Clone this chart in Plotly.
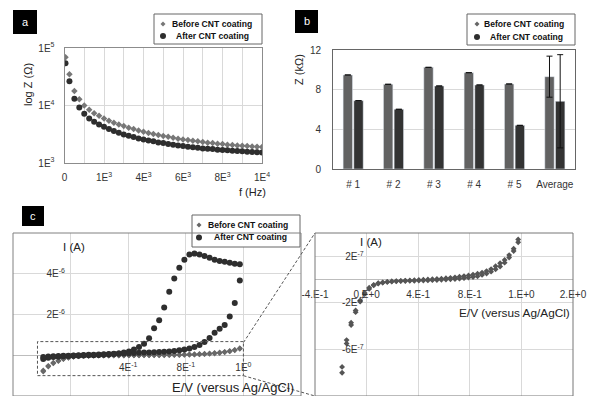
import plotly.graph_objects as go

W, H = 590, 396


def px(x):
    return x / W


def py(y):
    return 1 - y / H


# ---------------- data: panel a (impedance vs frequency) ----------------
freq_hz = [50, 250, 500, 750, 1000, 1250, 1500, 1750, 2000, 2250, 2500, 2750, 3000, 3250,
           3500, 3750, 4000, 4250, 4500, 4750, 5000, 5250, 5500, 5750, 6000, 6250, 6500,
           6750, 7000, 7250, 7500, 7750, 8000, 8250, 8500, 8750, 9000, 9250, 9500, 9750, 10000]
z_before = [68900, 34900, 17900, 12900, 10000, 8410, 7360, 6620, 5950, 5420, 5000, 4690, 4380,
            4100, 3890, 3680, 3490, 3310, 3180, 3060, 2940, 2860, 2750, 2640, 2570, 2500, 2440,
            2380, 2310, 2250, 2220, 2160, 2130, 2080, 2050, 2020, 2000, 1970, 1945, 1920, 1895]
z_after = [54200, 26400, 13060, 9230, 7170, 5950, 5210, 4690, 4270, 3890, 3590, 3360, 3140,
           2980, 2820, 2680, 2570, 2470, 2380, 2280, 2220, 2130, 2080, 2020, 1970, 1920, 1870,
           1845, 1795, 1775, 1750, 1700, 1680, 1660, 1640, 1615, 1595, 1575, 1560, 1545, 1530]
a_xticks = [0, 2000, 4000, 6000, 8000, 10000]
a_xticklabels = ["0", "1E<sup>3</sup>", "4E<sup>3</sup>", "6E<sup>3</sup>",
                 "8E<sup>3</sup>", "1E<sup>4</sup>"]
a_yticks = [1e3, 1e4, 1e5]
a_yticklabels = ["1E<sup>3</sup>", "1E<sup>4</sup>", "1E<sup>5</sup>"]

# ---------------- data: panel b (impedance per electrode) ----------------
samples = ["# 1", "# 2", "# 3", "# 4", "# 5", "Average"]
zk_before = [9.48, 8.54, 10.25, 9.71, 8.57, 9.31]
zk_after = [6.89, 6.02, 8.37, 8.47, 4.40, 6.83]
err_before = [None, None, None, None, None, 2.07]
err_after = [None, None, None, None, None, 4.70]
b_yticks = [0, 4, 8, 12]

# ---------------- data: panel c (cyclic voltammetry) ----------------
e_scan = [-0.19, -0.155, -0.12, -0.085, -0.05, -0.015, 0.02, 0.055, 0.09, 0.125, 0.16, 0.195,
          0.23, 0.265, 0.30, 0.335, 0.37, 0.405, 0.44, 0.475, 0.51, 0.545, 0.58, 0.615, 0.65,
          0.685, 0.72, 0.755, 0.79, 0.825, 0.86, 0.895, 0.93, 0.965, 1.0, 1.035, 1.07, 1.105,
          1.14, 1.175]
# currents in microampere, listed in ascending potential order
i_before_fwd_uA = [-0.80, -0.55, -0.39, -0.28, -0.19, -0.125, -0.08, -0.05, -0.034, -0.026,
                   -0.020, -0.016, -0.013, -0.011, -0.009, -0.007, -0.005, -0.003, -0.001, 0.001,
                   0.003, 0.005, 0.008, 0.011, 0.015, 0.019, 0.024, 0.030, 0.036, 0.043, 0.050,
                   0.060, 0.073, 0.090, 0.115, 0.140, 0.169, 0.210, 0.265, 0.345]
i_before_rev_uA = [-0.75, -0.52, -0.37, -0.265, -0.18, -0.115, -0.07, -0.045, -0.032, -0.025,
                   -0.020, -0.017, -0.015, -0.013, -0.012, -0.011, -0.010, -0.009, -0.008, -0.007,
                   -0.005, -0.004, -0.002, 0.000, 0.002, 0.005, 0.008, 0.012, 0.017, 0.022, 0.029,
                   0.040, 0.052, 0.068, 0.088, 0.112, 0.145, 0.190, 0.245, 0.320]
i_after_fwd_uA = [-0.18, -0.12, -0.09, -0.07, -0.05, -0.04, -0.03, -0.02, -0.01, 0.0, 0.0, 0.01,
                  0.02, 0.04, 0.06, 0.09, 0.13, 0.19, 0.28, 0.40, 0.56, 0.83, 1.32, 1.72, 2.34,
                  3.12, 3.77, 4.30, 4.69, 4.95, 4.99, 4.94, 4.87, 4.79, 4.69, 4.62, 4.59, 4.54,
                  4.49, 4.47]
i_after_rev_uA = [-0.08, -0.06, -0.05, -0.04, -0.03, -0.02, -0.01, 0.0, 0.01, 0.02, 0.03, 0.04,
                  0.05, 0.06, 0.07, 0.08, 0.09, 0.10, 0.11, 0.12, 0.13, 0.14, 0.15, 0.16, 0.17,
                  0.19, 0.21, 0.24, 0.28, 0.33, 0.40, 0.50, 0.65, 0.85, 1.10, 1.30, 1.49, 1.90,
                  2.57, 3.67]
cl_xticks = [0.4, 0.8, 1.2]
cl_xticklabels = ["4E<sup>-1</sup>", "8E<sup>-1</sup>", "1E<sup>0</sup>"]
cl_yticks = [2e-6, 4e-6]
cl_yticklabels = ["2E<sup>-6</sup>", "4E<sup>-6</sup>"]
cr_xticks = [-0.4, 0.0, 0.4, 0.8, 1.2, 1.6]
cr_xticklabels = ["-4.E-1", "0.E+0", "4.E-1", "8.E-1", "1.E+0", "2.E+0"]
cr_yticks = [-6e-7, -2e-7, 2e-7]
cr_yticklabels = ["-6E<sup>-7</sup>", "-2E<sup>-7</sup>", "2E<sup>-7</sup>"]

series_names = ["Before CNT coating", "After CNT coating"]

# loop order: forward scan then reverse scan
e_loop = e_scan + e_scan[::-1]
i_before_loop = [v * 1e-6 for v in i_before_fwd_uA + i_before_rev_uA[::-1]]
i_after_loop = [v * 1e-6 for v in i_after_fwd_uA + i_after_rev_uA[::-1]]

C_AFTER = "#2e2e2e"
GRID = "#d9d9d9"
DASH = "3px,2px"
TICKFONT = dict(family="Arial, Liberation Sans, sans-serif", size=10, color="#333333")

fig = go.Figure()

# panel a
fig.add_trace(go.Scatter(x=freq_hz, y=z_before, mode="markers", name=series_names[0],
                         marker=dict(symbol="diamond", size=5, color="#777777"),
                         xaxis="x", yaxis="y", showlegend=False))
fig.add_trace(go.Scatter(x=freq_hz, y=z_after, mode="markers", name=series_names[1],
                         marker=dict(symbol="circle", size=6, color=C_AFTER),
                         xaxis="x", yaxis="y", showlegend=False))

# panel b
fig.add_trace(go.Bar(x=samples, y=zk_before, name=series_names[0], marker_color="#626262",
                     error_y=dict(type="data", array=err_before, color="#111111",
                                  thickness=1, width=3),
                     xaxis="x2", yaxis="y2", showlegend=False))
fig.add_trace(go.Bar(x=samples, y=zk_after, name=series_names[1], marker_color="#333333",
                     error_y=dict(type="data", array=err_after, color="#111111",
                                  thickness=1, width=3),
                     xaxis="x2", yaxis="y2", showlegend=False))

# panel c left
fig.add_trace(go.Scatter(x=e_loop, y=i_before_loop, mode="markers", name=series_names[0],
                         marker=dict(symbol="diamond", size=4.5, color="#686868"),
                         xaxis="x3", yaxis="y3", showlegend=False))
fig.add_trace(go.Scatter(x=e_loop, y=i_after_loop, mode="markers", name=series_names[1],
                         marker=dict(symbol="circle", size=6, color=C_AFTER),
                         xaxis="x3", yaxis="y3", showlegend=False))

# panel c right (zoom of before-coating curve)
fig.add_trace(go.Scatter(x=e_loop, y=i_before_loop, mode="markers", name=series_names[0],
                         marker=dict(symbol="diamond", size=4.5, color="#555555"),
                         xaxis="x4", yaxis="y4", showlegend=False))

shapes = []
annotations = []


def text_at(x, y, text, size=11, angle=0, color="#222222", weight="normal"):
    annotations.append(dict(x=px(x), y=py(y), xref="paper", yref="paper", text=text,
                            textangle=angle, showarrow=False, xanchor="center",
                            yanchor="middle",
                            font=dict(family="Arial, Liberation Sans, sans-serif", size=size,
                                      color=color, weight=weight)))


def legend_box(x0, y0, x1, y1, rows):
    shapes.append(dict(type="rect", xref="paper", yref="paper", x0=px(x0), x1=px(x1),
                       y0=py(y1), y1=py(y0), line=dict(color="#666666", width=1),
                       fillcolor="white", layer="above"))
    for sym, color, size, label, mx, my, tx in rows:
        r = size / 2
        if sym == "diamond":
            path = (f"M {px(mx)},{py(my - r)} L {px(mx + r)},{py(my)} "
                    f"L {px(mx)},{py(my + r)} L {px(mx - r)},{py(my)} Z")
            shapes.append(dict(type="path", xref="paper", yref="paper", path=path,
                               fillcolor=color, line=dict(width=0), layer="above"))
        else:
            shapes.append(dict(type="circle", xref="paper", yref="paper",
                               x0=px(mx - r), x1=px(mx + r), y0=py(my + r), y1=py(my - r),
                               fillcolor=color, line=dict(width=0), layer="above"))
        text_at(tx, my, label, size=8.6, color="#111111", weight="bold")


legend_box(154, 14, 262, 44, [("diamond", "#777777", 5, series_names[0], 163, 24, 212),
                              ("circle", C_AFTER, 6, series_names[1], 163, 36, 212)])
legend_box(467, 14, 575, 45, [("diamond", "#666666", 5, series_names[0], 477, 24, 524),
                              ("circle", C_AFTER, 6, series_names[1], 477, 37, 526)])
legend_box(192, 215, 300, 247, [("diamond", "#666666", 5, series_names[0], 199, 225, 248),
                                ("circle", C_AFTER, 6, series_names[1], 199, 237.5, 250)])


def panel_label(x0, y0, x1, y1, letter):
    shapes.append(dict(type="rect", xref="paper", yref="paper", x0=px(x0), x1=px(x1),
                       y0=py(y1), y1=py(y0), fillcolor="black", line=dict(width=0)))
    text_at((x0 + x1) / 2, (y0 + y1) / 2, letter, size=11, color="white")


panel_label(13, 10, 37, 34, "a")
panel_label(295, 10, 318, 33, "b")
panel_label(22, 206, 44, 226, "c")

# frames of panel c
shapes.append(dict(type="rect", xref="x3 domain", yref="y3 domain", x0=0, x1=1, y0=0, y1=1,
                   line=dict(color="#808080", width=1)))
shapes.append(dict(type="rect", xref="x4 domain", yref="y4 domain", x0=0, x1=1, y0=0, y1=1,
                   line=dict(color="#777777", width=1)))
# zoom box and connectors
shapes.append(dict(type="rect", xref="x3", yref="y3", x0=-0.23, x1=1.2, y0=-1.0e-6, y1=0.67e-6,
                   line=dict(color="#555555", width=1, dash=DASH)))
shapes.append(dict(type="line", xref="paper", yref="paper", x0=px(243.5), y0=py(342.5),
                   x1=px(315), y1=py(233), line=dict(color="#555555", width=1, dash=DASH)))
shapes.append(dict(type="line", xref="paper", yref="paper", x0=px(243.5), y0=py(375.7),
                   x1=px(315), y1=py(396), line=dict(color="#555555", width=1, dash=DASH)))

# axis titles
text_at(28, 85, "log Z (Ω)", size=11, angle=-90)
text_at(252, 192, "f (Hz)", size=11)
text_at(299, 70, "Z (kΩ)", size=11, angle=-90)
text_at(74, 247, "I (A)", size=11.5)
text_at(233, 387, "E/V (versus Ag/AgCl)", size=13)
text_at(371, 242, "I (A)", size=11.5)
text_at(514, 313, "E/V (versus Ag/AgCl)", size=11.8)

fig.update_layout(
    width=W, height=H, autosize=False,
    margin=dict(l=0, r=0, t=0, b=0, autoexpand=False),
    paper_bgcolor="white", plot_bgcolor="white",
    showlegend=False,
    barmode="group", bargap=0.47, bargroupgap=0.12,
    xaxis=dict(domain=[px(64.5), px(262)], range=[0, 10000], tickvals=a_xticks,
               ticktext=a_xticklabels, showgrid=True, gridcolor=GRID, zeroline=False,
               minor=dict(dtick=1000, tick0=0, showgrid=True, gridcolor=GRID, ticks=""),
               showline=True, mirror=True, linecolor="#8c8c8c", ticks="",
               tickfont=TICKFONT, ticklabelstandoff=5, anchor="y", automargin=False),
    yaxis=dict(domain=[py(163), py(48)], type="log", range=[3, 5], tickvals=a_yticks,
               ticktext=a_yticklabels, showgrid=True, gridcolor=GRID, zeroline=False,
               showline=True, mirror=True, linecolor="#8c8c8c", ticks="",
               tickfont=TICKFONT, ticklabelstandoff=7, anchor="x", automargin=False),
    xaxis2=dict(domain=[px(333), px(575)], showgrid=False, showline=True, mirror=True,
                linecolor="#666666", ticks="", tickfont=TICKFONT, ticklabelstandoff=6,
                anchor="y2", automargin=False),
    yaxis2=dict(domain=[py(169), py(50)], range=[0, 12], tickvals=b_yticks, showgrid=True,
                gridcolor=GRID, zeroline=False, showline=True, mirror=True,
                linecolor="#666666", ticks="", tickfont=TICKFONT, ticklabelstandoff=9,
                anchor="x2", automargin=False),
    xaxis3=dict(domain=[px(13), px(301)], range=[-0.4, 1.6], tickvals=cl_xticks,
                ticktext=cl_xticklabels, showgrid=True, gridcolor=GRID, zeroline=False,
                minor=dict(dtick=0.4, tick0=0, showgrid=True, gridcolor=GRID, ticks=""),
                showline=False, ticks="", tickfont=TICKFONT, ticklabelstandoff=4,
                anchor="free", position=py(355.7), automargin=False),
    yaxis3=dict(domain=[0, py(233)], range=[-2e-6, 6e-6], tickvals=cl_yticks,
                ticktext=cl_yticklabels, showgrid=True, gridcolor=GRID, zeroline=True,
                zerolinecolor="#bdbdbd", zerolinewidth=1, showline=False, ticks="",
                tickfont=TICKFONT, ticklabelstandoff=5, anchor="free", position=px(70),
                automargin=False),
    xaxis4=dict(domain=[px(315), px(573)], range=[-0.4, 1.6], tickvals=cr_xticks,
                ticktext=cr_xticklabels, showgrid=True, gridcolor=GRID, zeroline=False,
                showline=False, ticks="", tickfont=TICKFONT, ticklabelstandoff=7,
                anchor="free", position=py(280), automargin=False),
    yaxis4=dict(domain=[0, py(233)], range=[-1e-6, 4e-7], tickvals=cr_yticks,
                ticktext=cr_yticklabels, showgrid=True, gridcolor=GRID, zeroline=True,
                zerolinecolor="#bdbdbd", zerolinewidth=1, showline=False, ticks="",
                tickfont=TICKFONT, ticklabelstandoff=3, anchor="free",
                position=px(366.7), automargin=False),
    shapes=shapes,
    annotations=annotations,
)

fig.write_html("out.html", config={"displayModeBar": False},
               post_script="document.body.style.margin='0';")
